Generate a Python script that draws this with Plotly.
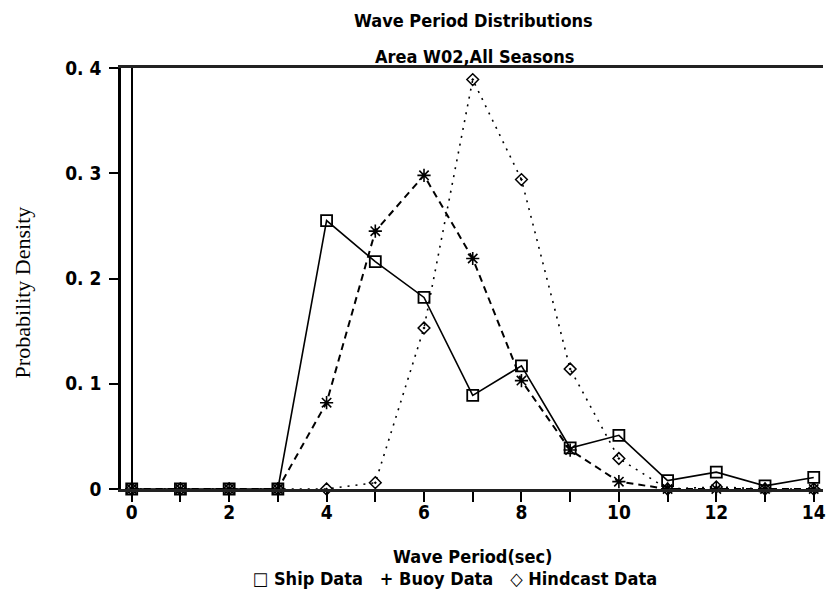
import plotly.graph_objects as go

periods = list(range(0, 15))
ship = [0, 0, 0, 0, 0.255, 0.216, 0.182, 0.089, 0.117, 0.039, 0.051, 0.008, 0.016, 0.003, 0.011]
buoy = [0, 0, 0, 0, 0.082, 0.245, 0.298, 0.219, 0.103, 0.037, 0.007, 0, 0, 0, 0]
hindcast = [0, 0, 0, 0, 0, 0.006, 0.153, 0.389, 0.294, 0.114, 0.029, 0, 0.002, 0, 0]

xtick_vals = list(range(0, 15))
xtick_text = [str(v) if v % 2 == 0 else "" for v in xtick_vals]
ytick_vals = [0, 0.1, 0.2, 0.3, 0.4]
ytick_text = ["0", "0. 1", "0. 2", "0. 3", "0. 4"]

BOLD = "DejaVu Sans Condensed, DejaVu Sans, sans-serif"
SERIF = "Liberation Serif, Times New Roman, serif"

W, H = 826, 591
ML, MR, MT, MB = 121, 0, 68, 102
pw, ph = W - ML - MR, H - MT - MB


def px(xp):
    return (xp - ML) / pw


def py(yp):
    return (H - MB - yp) / ph


fig = go.Figure()
fig.add_trace(go.Scatter(
    x=periods, y=hindcast, mode="lines+markers", name="Hindcast Data",
    line=dict(color="black", width=1.6, dash="2px,6px"),
    marker=dict(symbol="diamond-open-dot", size=9, color="black", line=dict(width=1.5)),
    cliponaxis=False, showlegend=False))
fig.add_trace(go.Scatter(
    x=periods, y=buoy, mode="lines+markers", name="Buoy Data",
    line=dict(color="black", width=2, dash="7px,5px"),
    marker=dict(symbol="asterisk-open", size=11, color="black", line=dict(width=1.6, color="black")),
    cliponaxis=False, showlegend=False))
fig.add_trace(go.Scatter(
    x=periods, y=ship, mode="lines+markers", name="Ship Data",
    line=dict(color="black", width=1.6),
    marker=dict(symbol="square-open", size=11, color="black", line=dict(width=1.8)),
    cliponaxis=False, showlegend=False))

fig.update_layout(
    width=W, height=H,
    margin=dict(l=ML, r=MR, t=MT, b=MB),
    paper_bgcolor="white", plot_bgcolor="white",
    font=dict(family=BOLD, color="black", size=16),
    xaxis=dict(
        range=[-0.22, 14.19], tickvals=xtick_vals, ticktext=xtick_text,
        ticks="outside", ticklen=10, tickwidth=2, tickcolor="black",
        showgrid=False, showline=True, linewidth=3, linecolor="#222", mirror=True,
        zeroline=True, zerolinecolor="black", zerolinewidth=2,
        ticklabelstandoff=-6, ticklabeloverflow="allow",
        tickfont=dict(family=BOLD, size=19, weight="bold"),
    ),
    yaxis=dict(
        range=[0, 0.4], tickvals=ytick_vals, ticktext=ytick_text,
        ticks="outside", ticklen=9, tickwidth=2, tickcolor="black",
        showgrid=False, showline=True, linewidth=2.5, linecolor="black",
        zeroline=False, ticklabelstandoff=4,
        tickfont=dict(family=BOLD, size=19, weight="bold"),
    ),
)

common = dict(xref="paper", yref="paper", showarrow=False, xanchor="center", yanchor="middle")
fig.add_annotation(text="Wave Period Distributions", x=px(475), y=py(20),
                   font=dict(family=BOLD, size=18, weight="bold"), **common)
fig.add_annotation(text="Area W02,All Seasons", x=px(476), y=py(57),
                   font=dict(family=BOLD, size=18, weight="bold"), **common)
fig.add_annotation(text="Wave Period(sec)", x=px(474), y=py(556),
                   font=dict(family=BOLD, size=18, weight="bold"), **common)
fig.add_annotation(text="\u25a1 Ship Data&nbsp;&nbsp;&nbsp;+ Buoy Data&nbsp;&nbsp;&nbsp;\u25c7 Hindcast Data",
                   x=px(456), y=py(578),
                   font=dict(family=BOLD, size=18, weight="bold"), **common)
fig.add_annotation(text="Probability Density", x=px(22), y=py(292), textangle=-90,
                   font=dict(family=SERIF, size=22), **common)

fig.write_html("out.html")
